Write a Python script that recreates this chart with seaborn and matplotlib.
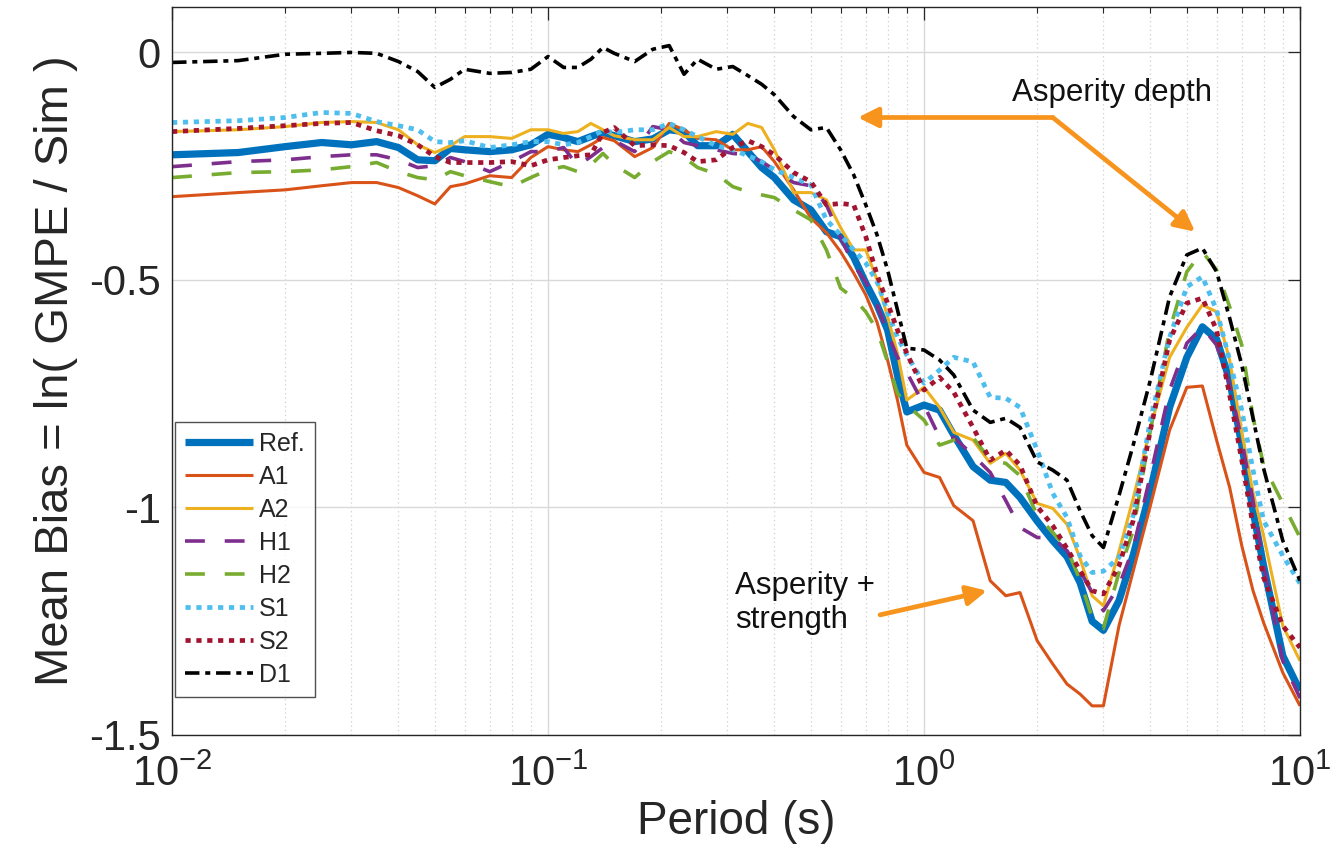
import numpy as np
import pandas as pd
import matplotlib
matplotlib.use("Agg")
import matplotlib.pyplot as plt
import matplotlib.ticker as mticker
import seaborn as sns

# ---------------- data ----------------
periods = [0.01, 0.015, 0.02, 0.025, 0.03, 0.035, 0.04, 0.045, 0.05, 0.055,
           0.06, 0.07, 0.08, 0.09, 0.1, 0.11, 0.12, 0.13, 0.14, 0.15,
           0.17, 0.19, 0.21, 0.23, 0.25, 0.28, 0.31, 0.34, 0.37, 0.4,
           0.45, 0.5, 0.55, 0.6, 0.65, 0.7, 0.75, 0.8, 0.85, 0.9,
           1.0, 1.1, 1.2, 1.35, 1.5, 1.65, 1.8, 2.0, 2.2, 2.4,
           2.6, 2.8, 3.0, 3.3, 3.6, 4.0, 4.5, 5.0, 5.5, 6.0,
           6.5, 7.0, 7.5, 8.0, 9.0, 10.0]

ref = [-0.225, -0.220, -0.207, -0.198, -0.203, -0.196, -0.209, -0.236, -0.238, -0.211,
       -0.214, -0.218, -0.214, -0.203, -0.180, -0.187, -0.196, -0.185, -0.176, -0.183,
       -0.196, -0.190, -0.170, -0.174, -0.205, -0.205, -0.180, -0.218, -0.253, -0.275,
       -0.324, -0.346, -0.394, -0.405, -0.450, -0.507, -0.555, -0.610, -0.710, -0.790,
       -0.775, -0.786, -0.841, -0.910, -0.940, -0.945, -0.978, -1.030, -1.073, -1.108,
       -1.165, -1.250, -1.270, -1.205, -1.105, -0.963, -0.780, -0.670, -0.603, -0.630,
       -0.720, -0.863, -1.007, -1.128, -1.326, -1.403]

a1 = [-0.317, -0.308, -0.302, -0.293, -0.286, -0.286, -0.297, -0.315, -0.333, -0.295,
      -0.289, -0.271, -0.275, -0.231, -0.207, -0.214, -0.218, -0.203, -0.187, -0.194,
      -0.229, -0.209, -0.156, -0.170, -0.189, -0.192, -0.214, -0.214, -0.207, -0.240,
      -0.302, -0.364, -0.396, -0.438, -0.485, -0.533, -0.593, -0.676, -0.764, -0.863,
      -0.923, -0.934, -0.996, -1.029, -1.161, -1.194, -1.187, -1.293, -1.344, -1.388,
      -1.410, -1.436, -1.436, -1.260, -1.140, -0.996, -0.830, -0.736, -0.733, -0.852,
      -0.956, -1.084, -1.183, -1.253, -1.363, -1.436]

a2 = [-0.174, -0.170, -0.163, -0.154, -0.152, -0.154, -0.170, -0.203, -0.220, -0.205,
      -0.185, -0.185, -0.189, -0.170, -0.170, -0.178, -0.174, -0.156, -0.170, -0.183,
      -0.192, -0.192, -0.165, -0.185, -0.185, -0.174, -0.180, -0.156, -0.165, -0.214,
      -0.308, -0.308, -0.324, -0.385, -0.434, -0.434, -0.500, -0.581, -0.661, -0.764,
      -0.736, -0.780, -0.835, -0.852, -0.903, -0.881, -0.918, -0.991, -1.002, -1.037,
      -1.112, -1.194, -1.216, -1.097, -0.980, -0.826, -0.670, -0.604, -0.555, -0.570,
      -0.676, -0.835, -0.967, -1.062, -1.260, -1.337]

h1 = [-0.251, -0.240, -0.236, -0.229, -0.225, -0.225, -0.236, -0.253, -0.249, -0.231,
      -0.240, -0.262, -0.240, -0.218, -0.218, -0.209, -0.249, -0.229, -0.209, -0.194,
      -0.218, -0.163, -0.170, -0.198, -0.205, -0.214, -0.222, -0.225, -0.240, -0.258,
      -0.286, -0.293, -0.335, -0.407, -0.467, -0.504, -0.555, -0.617, -0.670, -0.703,
      -0.775, -0.846, -0.846, -0.885, -0.923, -0.985, -1.044, -1.066, -1.066, -1.095,
      -1.139, -1.187, -1.227, -1.172, -1.090, -0.930, -0.742, -0.639, -0.604, -0.643,
      -0.731, -0.852, -0.985, -1.128, -1.337, -1.419]

h2 = [-0.275, -0.264, -0.262, -0.258, -0.251, -0.242, -0.262, -0.275, -0.280, -0.262,
      -0.271, -0.284, -0.295, -0.275, -0.258, -0.251, -0.262, -0.247, -0.222, -0.247,
      -0.275, -0.240, -0.218, -0.231, -0.253, -0.267, -0.295, -0.306, -0.313, -0.319,
      -0.346, -0.368, -0.434, -0.518, -0.540, -0.570, -0.610, -0.680, -0.749, -0.775,
      -0.808, -0.863, -0.852, -0.846, -0.896, -0.903, -0.930, -1.018, -1.055, -1.090,
      -1.160, -1.242, -1.266, -1.143, -1.051, -0.830, -0.610, -0.482, -0.438, -0.478,
      -0.559, -0.643, -0.802, -0.907, -0.991, -1.066]

s1 = [-0.154, -0.150, -0.143, -0.132, -0.134, -0.152, -0.161, -0.170, -0.196, -0.198,
      -0.194, -0.209, -0.203, -0.196, -0.196, -0.203, -0.198, -0.185, -0.172, -0.176,
      -0.170, -0.170, -0.156, -0.170, -0.185, -0.205, -0.214, -0.227, -0.240, -0.258,
      -0.275, -0.291, -0.368, -0.401, -0.434, -0.463, -0.504, -0.570, -0.626, -0.665,
      -0.727, -0.698, -0.670, -0.680, -0.758, -0.760, -0.780, -0.874, -0.969, -1.022,
      -1.106, -1.143, -1.140, -1.110, -1.018, -0.808, -0.626, -0.515, -0.493, -0.566,
      -0.676, -0.786, -0.918, -1.029, -1.106, -1.167]

s2 = [-0.174, -0.167, -0.161, -0.156, -0.154, -0.172, -0.183, -0.203, -0.229, -0.242,
      -0.242, -0.242, -0.240, -0.249, -0.236, -0.231, -0.227, -0.225, -0.176, -0.165,
      -0.205, -0.203, -0.205, -0.220, -0.240, -0.236, -0.209, -0.194, -0.207, -0.225,
      -0.264, -0.284, -0.335, -0.332, -0.335, -0.405, -0.489, -0.551, -0.610, -0.661,
      -0.742, -0.714, -0.747, -0.824, -0.896, -0.874, -0.907, -0.998, -1.040, -1.090,
      -1.139, -1.183, -1.190, -1.128, -1.029, -0.830, -0.632, -0.551, -0.540, -0.610,
      -0.753, -0.896, -1.040, -1.154, -1.260, -1.308]

d1 = [-0.022, -0.018, -0.004, -0.002, 0.000, -0.002, -0.020, -0.042, -0.077, -0.059,
      -0.037, -0.046, -0.044, -0.037, -0.009, -0.033, -0.033, -0.015, 0.011, -0.002,
      -0.020, 0.007, 0.015, -0.048, -0.015, -0.037, -0.031, -0.051, -0.070, -0.093,
      -0.141, -0.170, -0.165, -0.214, -0.269, -0.335, -0.401, -0.478, -0.566, -0.650,
      -0.654, -0.676, -0.709, -0.786, -0.813, -0.804, -0.824, -0.900, -0.918, -0.940,
      -1.007, -1.062, -1.088, -0.974, -0.863, -0.720, -0.537, -0.445, -0.430, -0.482,
      -0.584, -0.687, -0.804, -0.914, -1.073, -1.161]

series_names = ["Ref.", "A1", "A2", "H1", "H2", "S1", "S2", "D1"]
series_values = [ref, a1, a2, h1, h2, s1, s2, d1]

y_ticks = [-1.5, -1.0, -0.5, 0.0]
y_tick_labels = ["-1.5", "-1", "-0.5", "0"]

# ---------------- styles ----------------
colors = {"Ref.": "#0072BD", "A1": "#D95319", "A2": "#EDB120", "H1": "#7E2F8E",
          "H2": "#77AC30", "S1": "#4DBEEE", "S2": "#A2142F", "D1": "#000000"}
widths = {"Ref.": 5.2, "A1": 2.2, "A2": 2.2, "H1": 2.6, "H2": 2.6,
          "S1": 3.4, "S2": 3.4, "D1": 2.6}
dashes = {"Ref.": "", "A1": "", "A2": "", "H1": (5.5, 5.5), "H2": (5.5, 5.5),
          "S1": (1.1, 1.2), "S2": (1.1, 1.2), "D1": (4.0, 1.6, 1.4, 1.6)}

sns.set_theme(style="white")
plt.rcParams["font.family"] = ["Liberation Sans", "DejaVu Sans"]
plt.rcParams["mathtext.fontset"] = "custom"
plt.rcParams["mathtext.rm"] = "Liberation Sans"
plt.rcParams["mathtext.it"] = "Liberation Sans"

fig = plt.figure(figsize=(13.38, 8.65), dpi=100)
ax = fig.add_axes([0.1286, 0.1503, 0.9716 - 0.1286, 0.9920 - 0.1503])

long_df = pd.DataFrame({
    "Period": np.tile(periods, len(series_names)),
    "Bias": np.concatenate(series_values),
    "Model": np.repeat(series_names, len(periods)),
})

for name in series_names:
    sub = long_df[long_df["Model"] == name]
    sns.lineplot(data=sub, x="Period", y="Bias", ax=ax, color=colors[name],
                 linewidth=widths[name], label=name, sort=False,
                 estimator=None)
    line = ax.lines[-1]
    if dashes[name]:
        line.set_dashes(dashes[name])
    line.set_solid_capstyle("butt")
    line.set_dash_capstyle("butt")

ax.set_xscale("log")
ax.set_xlim(0.01, 10)
ax.set_ylim(-1.5, 0.1)
ax.set_yticks(y_ticks)
ax.set_yticklabels(y_tick_labels)
ax.xaxis.set_major_locator(mticker.LogLocator(base=10, numticks=10))
ax.xaxis.set_minor_locator(mticker.LogLocator(base=10, subs=np.arange(2, 10), numticks=20))
ax.xaxis.set_minor_formatter(mticker.NullFormatter())

ax.grid(True, which="major", axis="both", color="#d9d9d9", linewidth=1.0, linestyle="-")
ax.grid(True, which="minor", axis="x", color="#cfcfcf", linewidth=0.9, linestyle=(0, (1, 2.5)))
ax.set_axisbelow(True)

for sp in ax.spines.values():
    sp.set_color("#262626")
    sp.set_linewidth(1.0)
ax.tick_params(which="both", direction="in", top=True, right=True, colors="#262626")
ax.tick_params(which="major", length=9, width=0.9, labelsize=30, pad=8)
ax.tick_params(which="minor", length=4.5, width=0.8)
ax.tick_params(axis="x", which="major", pad=14)

ax.set_xlabel("Period (s)", fontsize=33, color="#262626", labelpad=4)
ax.set_ylabel("Mean Bias = ln( GMPE / Sim )", fontsize=34, color="#262626", labelpad=8)

leg = ax.legend(loc="lower left", bbox_to_anchor=(0.003, 0.052), fontsize=18,
                frameon=True, fancybox=False, edgecolor="#262626",
                handlelength=2.7, labelspacing=0.36, borderpad=0.4,
                handletextpad=0.25, borderaxespad=0.0)
leg.get_frame().set_linewidth(1.0)

arrow_color = "#F7941D"
ann_font = dict(fontsize=22.5, color="#111111", family=["Liberation Sans", "DejaVu Sans"])
ax.text(3.16, -0.09, "Asperity depth", ha="center", va="center", **ann_font)
arrow_kw = dict(arrowstyle="-|>,head_length=1.0,head_width=0.5", color=arrow_color,
                lw=3.4, shrinkA=0, shrinkB=0)
ax.annotate("", xy=(0.667, -0.143), xytext=(2.20, -0.143), arrowprops=arrow_kw)
ax.annotate("", xy=(5.26, -0.394), xytext=(2.20, -0.143), arrowprops=arrow_kw)
ax.text(0.314, -1.21, "Asperity +\nstrength", ha="left", va="center",
        linespacing=1.2, **ann_font)
ax.annotate("", xy=(1.47, -1.183), xytext=(0.764, -1.236), arrowprops=arrow_kw)

fig.savefig("out.png", dpi=100)
